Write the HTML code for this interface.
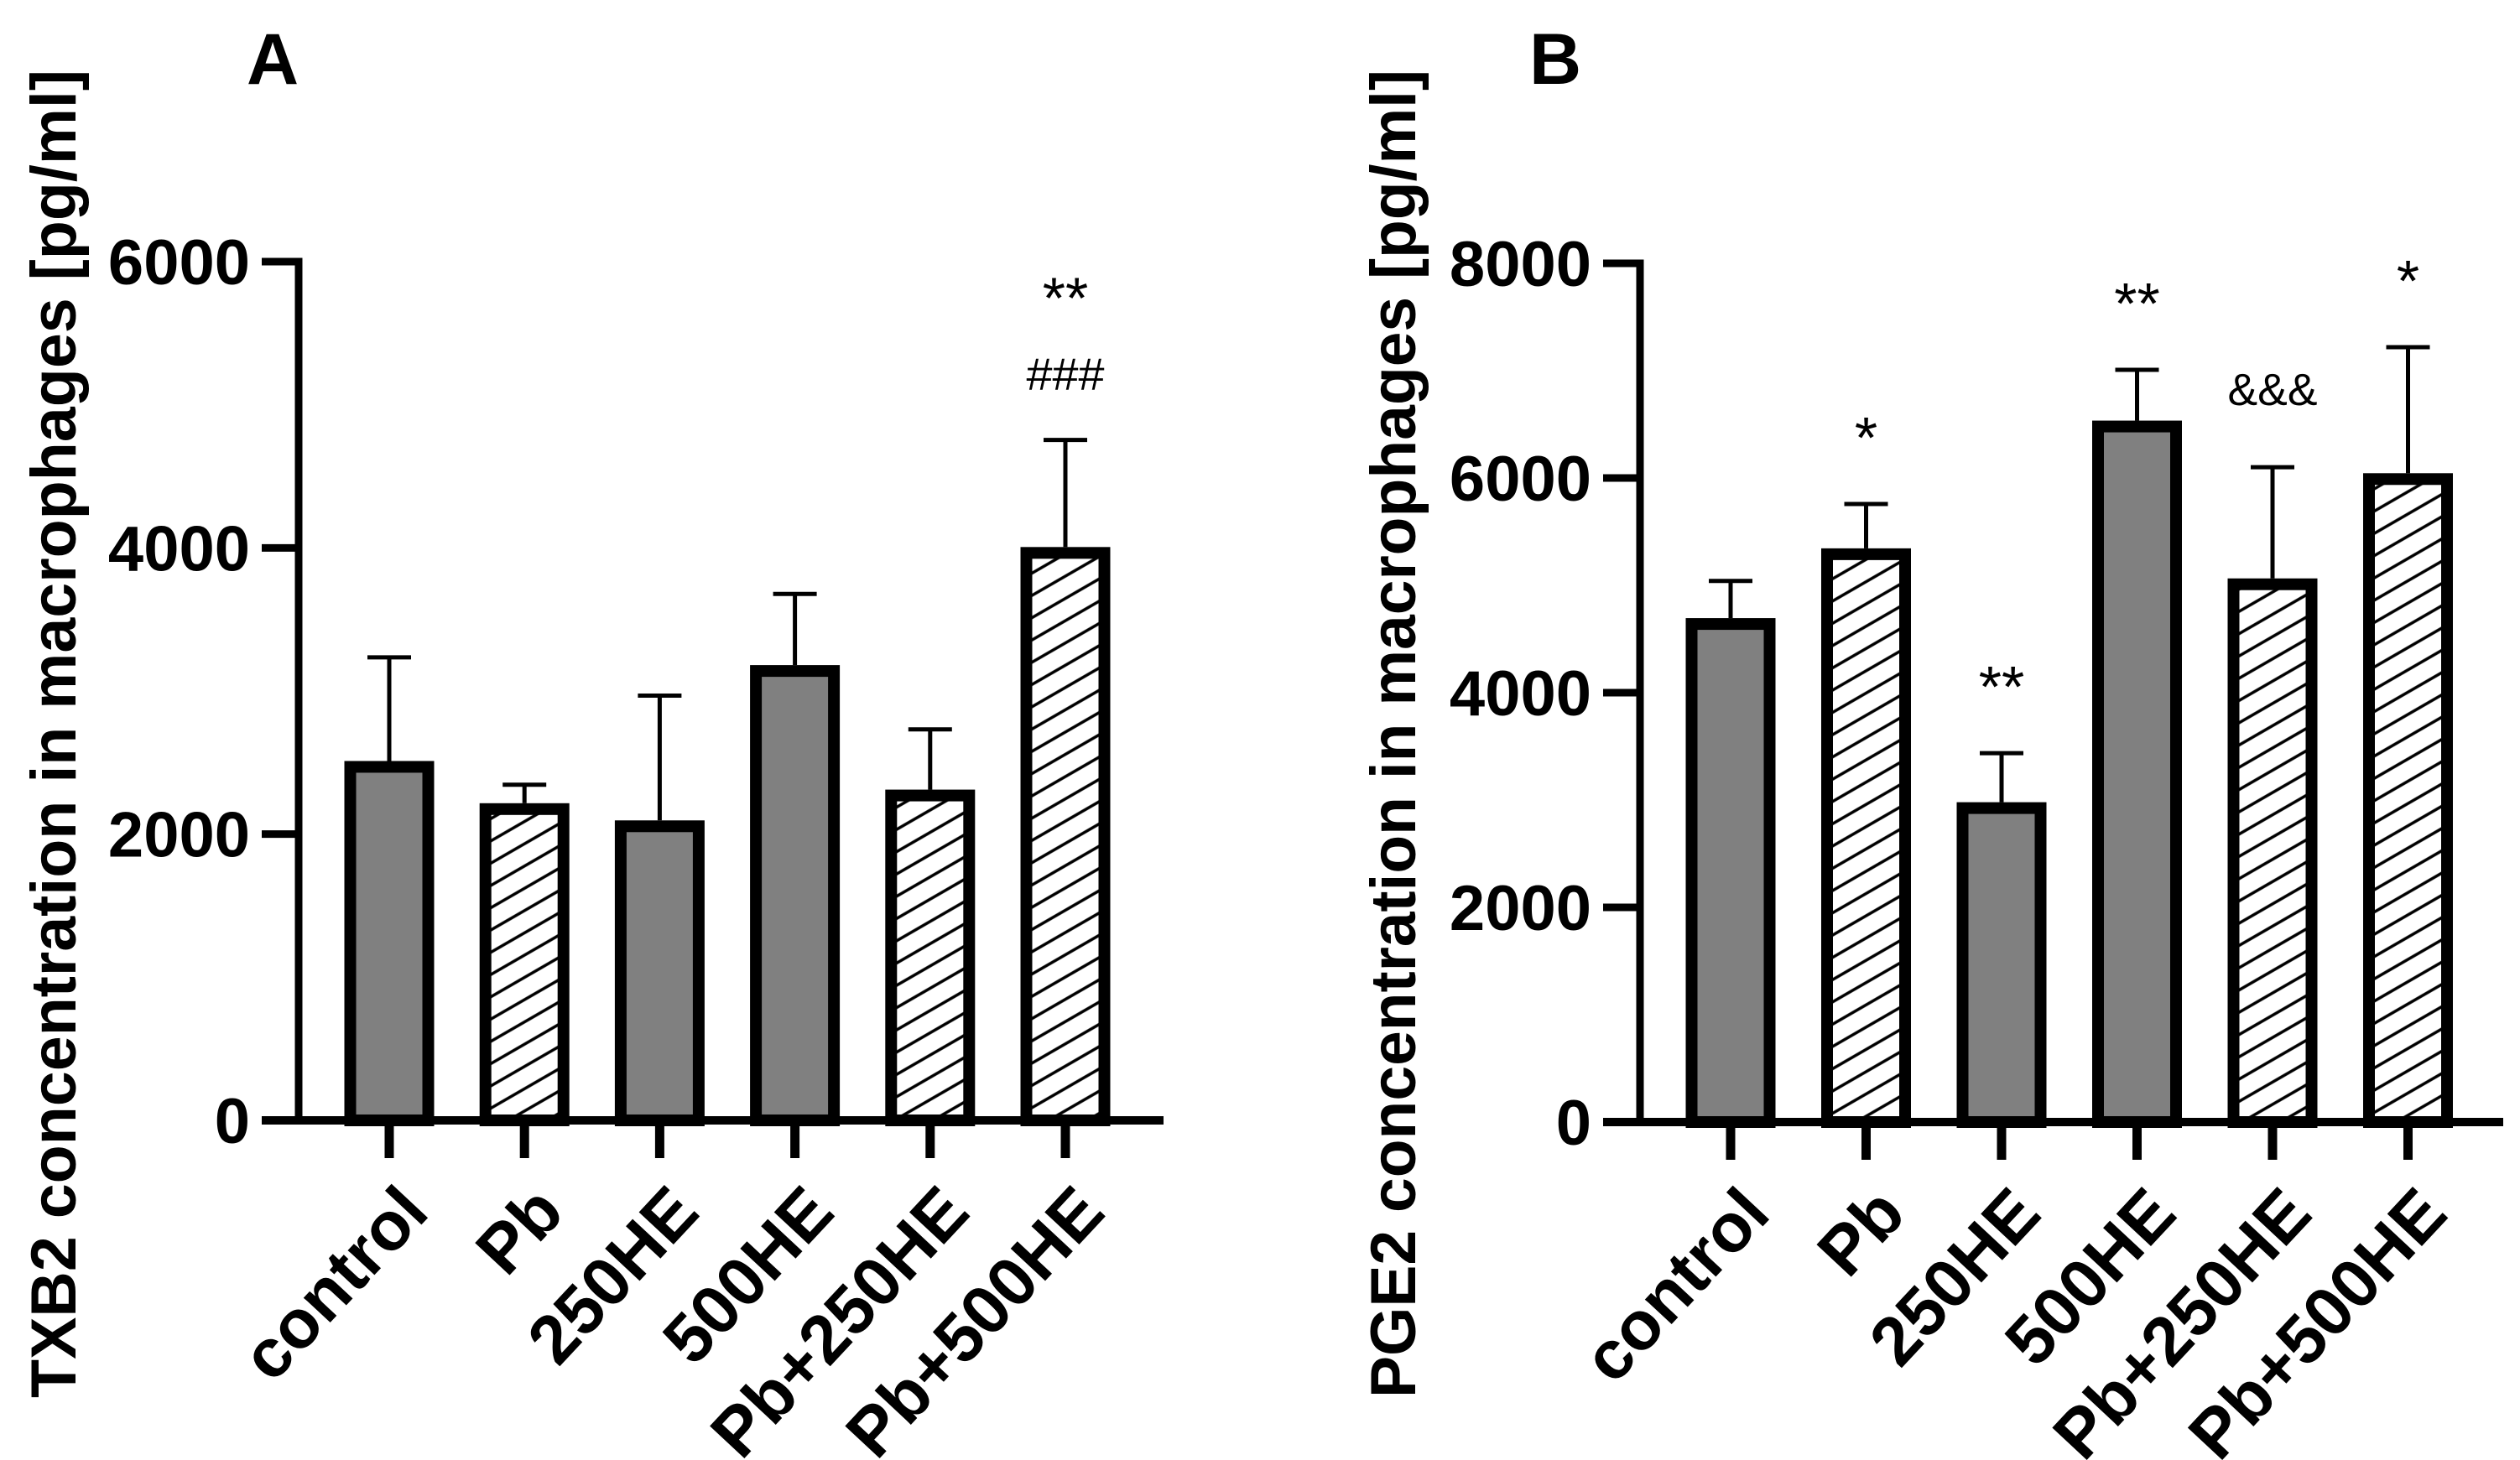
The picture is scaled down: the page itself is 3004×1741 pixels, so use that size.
<!DOCTYPE html>
<html><head><meta charset="utf-8"><style>
html,body{margin:0;padding:0;background:#fff}
svg{display:block}
text{font-family:"Liberation Sans",Arial,sans-serif}
</style></head><body>
<svg id="fig" width="3004" height="1741" viewBox="0 0 3004 1741" xmlns="http://www.w3.org/2000/svg">
<defs>
<pattern id="hatch" patternUnits="userSpaceOnUse" width="40" height="23" patternTransform="rotate(-30)">
<rect width="40" height="23" fill="#fff"/>
<line x1="0" y1="11" x2="40" y2="11" stroke="#000" stroke-width="3.5"/>
</pattern>
</defs>
<g id="panelA"></g>
<g id="panelB"></g>
</svg>
<script>
const categories = ["control","Pb","250HE","500HE","Pb+250HE","Pb+500HE"];
const hatched = [false,true,false,false,true,true];
const txb2Means = [2470,2175,2055,3140,2270,3965];
const txb2Errors = [3235,2345,2968,3678,2732,4754];
const txb2Ticks = [0,2000,4000,6000];
const txb2Marks = [[],[],[],[],[],["**","###"]];
const pge2Means = [4640,5290,2925,6480,5010,5990];
const pge2Errors = [5041,5758,3437,7008,6101,7219];
const pge2Ticks = [0,2000,4000,6000,8000];
const pge2Marks = [[],["*"],["**"],["**"],["&&&"],["*"]];

const NS = "http://www.w3.org/2000/svg";
function mk(tag, attrs, parent, txt){
  const e = document.createElementNS(NS, tag);
  for (const k in attrs) e.setAttribute(k, attrs[k]);
  if (txt !== undefined) e.textContent = txt;
  parent.appendChild(e);
  return e;
}

function drawPanel(g, cfg, means, errs, ticks, marks){
  const yMax = ticks[ticks.length-1];
  const yS = v => cfg.y0 - (v / yMax) * (cfg.y0 - cfg.yTop);
  const xS = i => cfg.x0 + cfg.step * i;

  const letter = mk("text", {x: cfg.letterX, y: 100, "font-size": 86, "font-weight": "bold", "text-anchor": "middle"}, g, cfg.letter);
  
  

  const title = mk("text", {transform: `translate(${cfg.titleX},${(83+1667)/2}) rotate(-90)`, "font-size": 76, "font-weight": "bold", "text-anchor": "middle", textLength: 1584, lengthAdjust: "spacingAndGlyphs"}, g, cfg.title);
  
  

  means.forEach((m, i) => {
    const cx = xS(i);
    const top = yS(m);
    const r = mk("rect", {x: cx - 46.5, y: top, width: 93, height: cfg.y0 - top, fill: hatched[i] ? "url(#hatch)" : "#808080", stroke: "#000", "stroke-width": 14}, g);
    
    
    const et = yS(errs[i]);
    const ev = mk("line", {x1: cx, x2: cx, y1: top - 7, y2: et, stroke: "#000", "stroke-width": 5}, g);
    
    
    const ec = mk("line", {x1: cx - 26, x2: cx + 26, y1: et, y2: et, stroke: "#000", "stroke-width": 5}, g);
    
    
  });

  marks.forEach((list, i) => {
    const et = yS(errs[i]);
    list.forEach((s, k) => {
      let base, fs = 70;
      if (s === "&&&") { fs = 54; base = et - 74; }
      else if (s === "###") { fs = 54; base = et - 60; }
      else if (list.length > 1) { base = et - 145; }
      else { base = et - 55; }
      const t = mk("text", {x: xS(i), y: base, "font-size": fs, "text-anchor": "middle"}, g, s);
      if (s === "###") { t.setAttribute("textLength", 93); t.setAttribute("lengthAdjust", "spacingAndGlyphs"); }
      if (s === "&&&") { t.setAttribute("textLength", 107); t.setAttribute("lengthAdjust", "spacingAndGlyphs"); }
      
      
    });
  });

  const ya = mk("line", {x1: cfg.axisX, x2: cfg.axisX, y1: cfg.yTop - 4.5, y2: cfg.y0 + 5, stroke: "#000", "stroke-width": 9}, g);
  
  
  const xa = mk("line", {x1: cfg.axisX - 44, x2: cfg.xEnd, y1: cfg.y0, y2: cfg.y0, stroke: "#000", "stroke-width": 10}, g);
  
  

  ticks.forEach(v => {
    const y = yS(v);
    const tk = mk("line", {x1: cfg.axisX - 44, x2: cfg.axisX, y1: y, y2: y, stroke: "#000", "stroke-width": 9}, g);
    
    
    const tl = mk("text", {x: cfg.axisX - 58, y: y + 27, "font-size": 76, "font-weight": "bold", "text-anchor": "end"}, g, String(v));
    
    
  });

  categories.forEach((c, i) => {
    const x = xS(i);
    const tk = mk("line", {x1: x, x2: x, y1: cfg.y0, y2: cfg.y0 + 45, stroke: "#000", "stroke-width": 11}, g);
    
    
    const lb = mk("text", {transform: `translate(${x + 50},${cfg.y0 + 112}) rotate(-47)`, "font-size": 82, "font-weight": "bold", "text-anchor": "end"}, g, c);
    
    
  });
}

drawPanel(document.getElementById("panelA"),
  {letter: "A", letterX: 325, title: "TXB2 concentration in macrophages [pg/ml]", titleX: 90,
   axisX: 356, x0: 464, step: 161.2, yTop: 312, y0: 1336, xEnd: 1387},
  txb2Means, txb2Errors, txb2Ticks, txb2Marks);
drawPanel(document.getElementById("panelB"),
  {letter: "B", letterX: 1854, title: "PGE2 concentration in macrophages [pg/ml]", titleX: 1687,
   axisX: 1955, x0: 2063, step: 161.5, yTop: 314, y0: 1338, xEnd: 2984},
  pge2Means, pge2Errors, pge2Ticks, pge2Marks);
</script>
</body></html>
